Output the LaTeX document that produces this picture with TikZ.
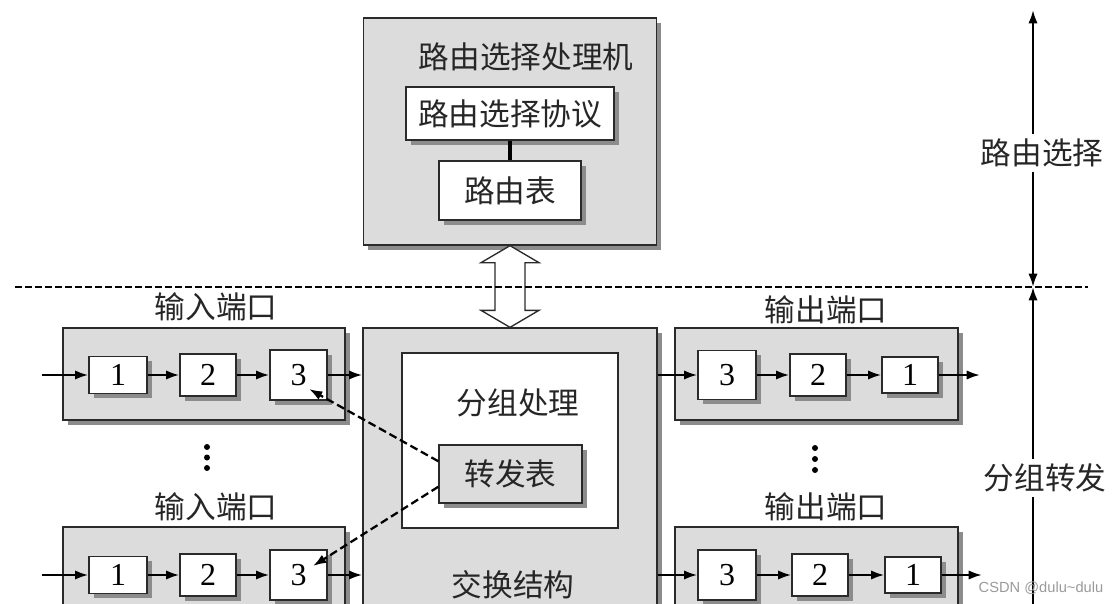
\documentclass[tikz,border=0pt]{standalone}
\usepackage{fontspec}
\setmainfont{Liberation Serif}
\newfontfamily\cjk{Noto Sans CJK SC}
\usetikzlibrary{arrows.meta,shadows,calc}
\definecolor{boxgray}{HTML}{DCDCDC}
\definecolor{shgray}{HTML}{8C8C8C}
\definecolor{edge}{HTML}{2A2A2A}
\definecolor{wmgray}{HTML}{9A9A9A}
\begin{document}
\begin{tikzpicture}[x=0.75pt,y=-0.75pt,
 sh/.style={drop shadow={shadow xshift=3.6pt,shadow yshift=-3.6pt,fill=shgray,opacity=1}},
 sz/.style 2 args={minimum width=#1*0.75pt,minimum height=#2*0.75pt,inner sep=0pt},
 grbox/.style={draw=edge,line width=1pt,fill=boxgray,sh},
 whbox/.style={draw=edge,line width=1pt,fill=white,sh},
 cjkt/.style={font=\cjk\fontsize{23}{27}\selectfont,text=black!85},
 num/.style={whbox,font=\fontsize{24}{28}\selectfont},
 arr/.style={line width=1.7pt,-{Latex[length=10pt,width=7pt]}},
 darr/.style={arr,dash pattern=on 6pt off 3pt},
 dotn/.style={circle,fill=black,inner sep=0pt,minimum size=4.5pt},
]
\useasboundingbox (0,0) rectangle (1116,603);
\clip (0,0) rectangle (1116,603);

% ---- routing processor ----
\node[grbox,sz={293}{227}] (top) at (510,131.5) {};
\node[cjkt] (rtitle) at (526,57) {路由选择处理机};
\node[whbox,cjkt,sz={208}{53}] (proto) at (510,113.5) {路由选择协议};
\node[whbox,cjkt,sz={142}{59}] (rtab) at (510,190.5) {路由表};
\draw[line width=2.8pt] (proto.south) -- (rtab.north);

% ---- switch fabric ----
\node[grbox,sz={294}{312}] (sw) at (510,484) {};
\node[draw=edge,line width=1pt,fill=white,sz={216}{175}] (proc) at (510,440.5) {};
\node[cjkt] (ptitle) at (518,403) {分组处理};
\node[grbox,cjkt,sz={143}{58}] (fwd) at (510.5,474) {转发表};
\node[cjkt] (fabric) at (513,585) {交换结构};

% ---- hollow double arrow ----
\draw[draw=edge,line width=1pt,fill=white]
  (top.south) -- ($(top.south)+(29,17)$) -- ($(top.south)+(15,17)$)
  -- ($(sw.north)+(15,-17)$) -- ($(sw.north)+(29,-17)$) -- (sw.north)
  -- ($(sw.north)+(-29,-17)$) -- ($(sw.north)+(-15,-17)$)
  -- ($(top.south)+(-15,17)$) -- ($(top.south)+(-29,17)$) -- cycle;

% ---- dashed separator ----
\coordinate (dl) at (15,287);
\coordinate (dr) at (1088,287);
\draw[line width=1.5pt,dash pattern=on 5pt off 2.5pt] (dl) -- (dr);

% ---- input ports ----
\node[cjkt] (inl1) at (216,307) {输入端口};
\node[grbox,sz={282}{92}] (inp1) at (204,374) {};
\node[num,sz={58}{37}] (a1) at (118,375) {1};
\node[num,sz={56}{42}] (a2) at (208,375) {2};
\node[num,sz={57}{50}] (a3) at (298.5,375) {3};
\coordinate (ina) at (42,375);
\draw[arr] (ina) -- (a1.west);
\draw[arr] (a1.east) -- (a2.west);
\draw[arr] (a2.east) -- (a3.west);
\draw[arr] (a3.east) -- (a3.east -| sw.west);

\node[dotn] (ld1) at (207,447) {};
\node[dotn] (ld2) at (207,457.5) {};
\node[dotn] (ld3) at (207,468) {};

\node[cjkt] (inl2) at (216,507) {输入端口};
\node[grbox,sz={282}{113}] (inp2) at (204,583.5) {};
\node[num,sz={58}{37}] (b1) at (118,575) {1};
\node[num,sz={56}{42}] (b2) at (208,575) {2};
\node[num,sz={57}{50}] (b3) at (298.5,575) {3};
\coordinate (inb) at (42,575);
\draw[arr] (inb) -- (b1.west);
\draw[arr] (b1.east) -- (b2.west);
\draw[arr] (b2.east) -- (b3.west);
\draw[arr] (b3.east) -- (b3.east -| sw.west);

% ---- output ports ----
\node[cjkt] (outl1) at (826,310) {输出端口};
\node[grbox,sz={283}{92}] (outp1) at (816.5,374) {};
\node[num,sz={58}{49}] (c3) at (727,375) {3};
\node[num,sz={56}{42}] (c2) at (818,375) {2};
\node[num,sz={56}{36}] (c1) at (910,375) {1};
\coordinate (outa) at (980,375);
\draw[arr] (sw.east |- c3.west) -- (c3.west);
\draw[arr] (c3.east) -- (c2.west);
\draw[arr] (c2.east) -- (c1.west);
\draw[arr] (c1.east) -- (outa);

\node[dotn] (rd1) at (815,448) {};
\node[dotn] (rd2) at (815,459) {};
\node[dotn] (rd3) at (815,470) {};

\node[cjkt] (outl2) at (826,507) {输出端口};
\node[grbox,sz={283}{113}] (outp2) at (816.5,583.5) {};
\node[num,sz={58}{50}] (d3) at (727,575) {3};
\node[num,sz={56}{42}] (d2) at (820,575) {2};
\node[num,sz={56}{36}] (d1) at (913,575) {1};
\coordinate (outb) at (982,575);
\draw[arr] (sw.east |- d3.west) -- (d3.west);
\draw[arr] (d3.east) -- (d2.west);
\draw[arr] (d2.east) -- (d1.west);
\draw[arr] (d1.east) -- (outb);

% ---- dashed lookups ----
\coordinate (t1) at (309,389);
\coordinate (t2) at (313,566);
\draw[darr] (fwd.170) -- (t1);
\draw[darr] (fwd.190) -- (t2);

% ---- right axis ----
\coordinate (axtop) at (1033,10);
\coordinate (axmid) at (1033,287);
\coordinate (axbot) at (1033,640);
\node[cjkt] (rsel) at (1042,153) {路由选择};
\node[cjkt] (pfw) at (1045,478) {分组转发};
\draw[arr] (rsel.north -| axtop) -- (axtop);
\draw[arr] (rsel.south -| axtop) -- (axmid);
\draw[arr] (pfw.north -| axtop) -- (axmid);
\draw[line width=1.7pt] (pfw.south -| axtop) -- (axbot);

% ---- watermark ----
\node[font=\fontspec{Liberation Sans}\fontsize{11}{13}\selectfont,text=wmgray] (wm) at (1041,588) {CSDN @dulu\textasciitilde dulu};
\end{tikzpicture}
\end{document}
